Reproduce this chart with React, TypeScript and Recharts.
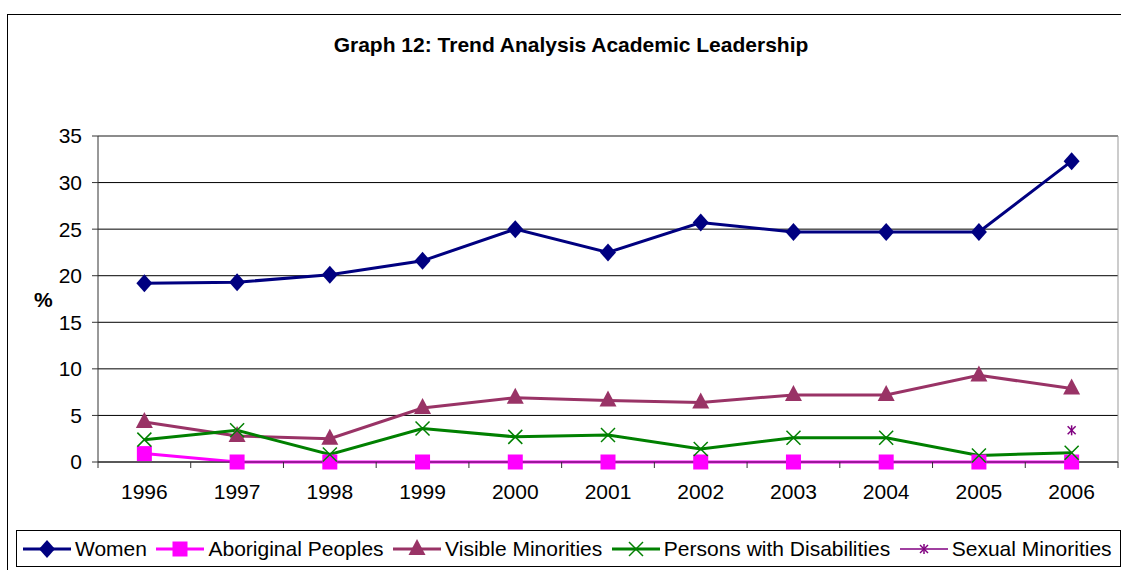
import React from 'react';
import {
  LineChart,
  Line,
  XAxis,
  YAxis,
  CartesianGrid,
  ReferenceLine
} from 'recharts';

const years = [1996, 1997, 1998, 1999, 2000, 2001, 2002, 2003, 2004, 2005, 2006];
const women = [19.2, 19.3, 20.1, 21.6, 25.0, 22.5, 25.7, 24.7, 24.7, 24.7, 32.3];
const aboriginal = [0.9, 0, 0, 0, 0, 0, 0, 0, 0, 0, 0];
const visible = [4.3, 2.8, 2.5, 5.8, 6.9, 6.6, 6.4, 7.2, 7.2, 9.3, 7.9];
const disabilities = [2.4, 3.4, 0.8, 3.6, 2.7, 2.9, 1.4, 2.6, 2.6, 0.7, 1.0];
const sexual = [null, null, null, null, null, null, null, null, null, null, 3.4];
const yTicks = [0, 5, 10, 15, 20, 25, 30, 35];
// year labels plus the boundaries between them (Excel puts tick marks between categories)
const xTicks = [1995.5, 1996, 1996.5, 1997, 1997.5, 1998, 1998.5, 1999, 1999.5, 2000, 2000.5,
  2001, 2001.5, 2002, 2002.5, 2003, 2003.5, 2004, 2004.5, 2005, 2005.5, 2006, 2006.5];

const data = years.map((year, i) => ({
  year,
  women: women[i],
  aboriginal: aboriginal[i],
  visible: visible[i],
  disabilities: disabilities[i],
  sexual: sexual[i]
}));

const FONT = '"Liberation Sans", Arial, sans-serif';

const C = {
  women: '#000080',
  aboriginal: '#FF00FF',
  visible: '#993366',
  disabilities: '#008000',
  sexual: '#800080'
};

type Shape = 'diamond' | 'square' | 'triangle' | 'cross' | 'star';

const Marker = ({ shape, cx, cy, color }: { shape: Shape; cx: number; cy: number; color: string }) => {
  switch (shape) {
    case 'diamond':
      return <polygon points={`${cx},${cy - 9} ${cx + 8},${cy} ${cx},${cy + 9} ${cx - 8},${cy}`} fill={color} />;
    case 'square':
      return <rect x={cx - 7.5} y={cy - 7.5} width={15} height={15} fill={color} />;
    case 'triangle':
      return <polygon points={`${cx},${cy - 10} ${cx + 8.5},${cy + 6} ${cx - 8.5},${cy + 6}`} fill={color} />;
    case 'cross':
      return (
        <g stroke={color} strokeWidth={1.5}>
          <line x1={cx - 7} y1={cy - 7} x2={cx + 7} y2={cy + 7} />
          <line x1={cx - 7} y1={cy + 7} x2={cx + 7} y2={cy - 7} />
        </g>
      );
    default:
      return (
        <g stroke={color} strokeWidth={1.5}>
          <line x1={cx - 4} y1={cy - 4} x2={cx + 4} y2={cy + 4} />
          <line x1={cx - 4} y1={cy + 4} x2={cx + 4} y2={cy - 4} />
          <line x1={cx} y1={cy - 5} x2={cx} y2={cy + 5} />
        </g>
      );
  }
};

const dotFor = (shape: Shape, color: string) => (props: any) => {
  const { cx, cy, index, value } = props;
  if (value == null || cx == null || cy == null) return <g key={`e-${shape}-${index}`} />;
  return (
    <g key={`${shape}-${index}`}>
      <Marker shape={shape} cx={cx} cy={cy} color={color} />
    </g>
  );
};

const XTick = (props: any) => {
  const { x, y, payload } = props;
  const v = payload.value as number;
  if (v % 1 !== 0) {
    return <line x1={x} y1={y} x2={x} y2={y + 6} stroke="#333" />;
  }
  return (
    <text x={x} y={y + 37} textAnchor="middle" fill="#000" fontSize={21} fontFamily={FONT}>
      {v}
    </text>
  );
};

const series: { key: keyof typeof C; name: string; shape: Shape }[] = [
  { key: 'women', name: 'Women', shape: 'diamond' },
  { key: 'aboriginal', name: 'Aboriginal Peoples', shape: 'square' },
  { key: 'visible', name: 'Visible Minorities', shape: 'triangle' },
  { key: 'disabilities', name: 'Persons with Disabilities', shape: 'cross' },
  { key: 'sexual', name: 'Sexual Minorities', shape: 'star' }
];

export default function App() {
  return (
    <div style={{ position: 'absolute', left: 0, top: 0, width: 1121, height: 570, overflow: 'hidden', background: '#fff', fontFamily: FONT }}>
      <div style={{ position: 'absolute', left: 7, top: 14, width: 1300, height: 700, border: '1px solid #000' }} />
      <div style={{ position: 'absolute', left: 0, width: 1142, top: 33, textAlign: 'center', fontWeight: 'bold', fontSize: 21, whiteSpace: 'nowrap' }}>
        Graph 12: Trend Analysis Academic Leadership
      </div>
      <div style={{ position: 'absolute', left: 34, top: 288, fontWeight: 'bold', fontSize: 21 }}>%</div>
      <div style={{ position: 'absolute', left: 0, top: 0 }}>
        <LineChart width={1121} height={570} data={data} margin={{ top: 136, right: 3, left: 38, bottom: 68 }}>
          <CartesianGrid horizontal vertical={false} stroke="#000" xAxisId="x" />
          <XAxis
            xAxisId="x"
            dataKey="year"
            type="number"
            domain={[1995.5, 2006.5]}
            ticks={xTicks}
            interval={0}
            height={40}
            tickLine={false}
            tickSize={0}
            tickMargin={0}
            axisLine={{ stroke: '#333' }}
            tick={<XTick />}
          />
          <YAxis
            domain={[0, 35]}
            ticks={yTicks}
            width={60}
            tickSize={6}
            tickMargin={10}
            axisLine={{ stroke: '#333' }}
            tickLine={{ stroke: '#333' }}
            tick={{ fill: '#000', fontSize: 21, fontFamily: FONT }}
          />
          <ReferenceLine xAxisId="x" y={35} stroke="#999" />
          <ReferenceLine xAxisId="x" x={2006.5} stroke="#999" />
          {series.map((s) => (
            <Line
              key={s.key}
              xAxisId="x"
              dataKey={s.key}
              name={s.name}
              stroke={C[s.key]}
              strokeWidth={3}
              dot={dotFor(s.shape, C[s.key])}
              activeDot={false}
              isAnimationActive={false}
              connectNulls={false}
            />
          ))}
        </LineChart>
      </div>
      <div
        style={{
          position: 'absolute',
          left: 16,
          top: 530,
          width: 1105,
          height: 37,
          border: '1px solid #000',
          display: 'flex',
          alignItems: 'center',
          paddingLeft: 6,
          boxSizing: 'border-box',
          fontSize: 21,
          whiteSpace: 'nowrap'
        }}
      >
        {series.map((s) => (
          <div key={s.key} style={{ display: 'flex', alignItems: 'center', marginRight: 9.5 }}>
            <svg width={48} height={20} style={{ marginRight: 4 }}>
              <line x1={0} y1={10} x2={48} y2={10} stroke={C[s.key]} strokeWidth={s.key === 'sexual' ? 1.5 : 3} />
              <Marker shape={s.shape} cx={24} cy={10} color={C[s.key]} />
            </svg>
            <span>{s.name}</span>
          </div>
        ))}
      </div>
    </div>
  );
}
